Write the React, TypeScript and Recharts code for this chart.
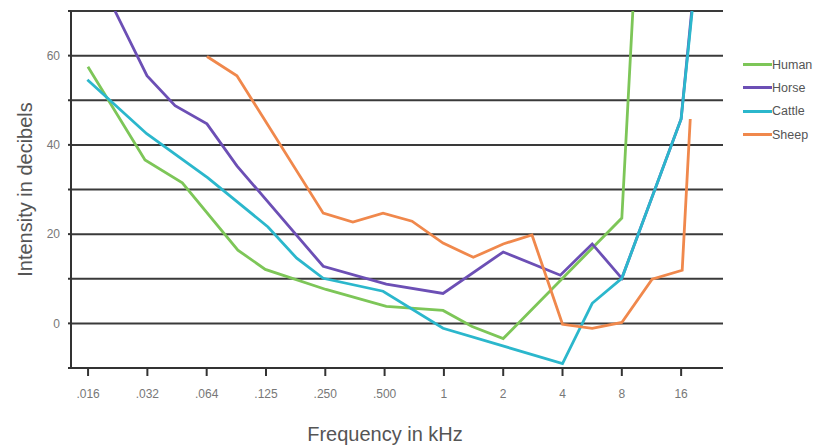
import React from 'react';
import { LineChart, Line, XAxis, YAxis, ReferenceLine } from 'recharts';

// Frequency axis (kHz, octave spaced) and its printed labels
const freqTicks = [0.015625, 0.03125, 0.0625, 0.125, 0.25, 0.5, 1, 2, 4, 8, 16];
const freqTickLabels = ['.016', '.032', '.064', '.125', '.250', '.500', '1', '2', '4', '8', '16'];

// Intensity axis (dB)
const gridLevels = [-10, 0, 10, 20, 30, 40, 50, 60, 70];
const labeledLevels = [0, 20, 40, 60];

// Series values
const humanFreq = [0.0156, 0.0304, 0.047, 0.09, 0.124, 0.252, 0.51, 0.99, 1.39, 2.0, 8.0, 9.1];
const humanDb = [57.5, 36.6, 31.5, 16.4, 12.1, 7.6, 3.8, 2.9, -0.7, -3.4, 23.6, 70];

const horseFreq = [0.0214, 0.0311, 0.0432, 0.0627, 0.089, 0.244, 0.51, 0.99, 2.0, 3.9, 5.66, 8.0, 16.0, 18.1];
const horseDb = [70, 55.5, 48.8, 44.7, 35.3, 12.8, 8.8, 6.7, 16, 10.8, 17.8, 10.1, 45.8, 70];

const cattleFreq = [0.0155, 0.031, 0.0634, 0.128, 0.179, 0.244, 0.491, 0.99, 4.0, 5.66, 8.0, 16.0, 18.2];
const cattleDb = [54.6, 42.5, 32.6, 21.6, 14.6, 10.1, 7.2, -1.1, -9, 4.5, 10.1, 45.8, 70];

const sheepFreq = [0.0627, 0.089, 0.244, 0.345, 0.491, 0.689, 0.99, 1.41, 2.0, 2.8, 4.0, 5.66, 8.0, 11.4, 16.2, 17.8];
const sheepDb = [59.8, 55.5, 24.7, 22.7, 24.7, 22.9, 18, 14.8, 17.8, 19.8, -0.2, -1.1, 0.2, 9.9, 11.9, 45.8];

const seriesNames = ['Human', 'Horse', 'Cattle', 'Sheep'];
const seriesColors = ['#7dc658', '#6c4fb5', '#2bb7cc', '#f0884c'];

const toPoints = (fs: number[], vs: number[]) => fs.map((f, i) => ({ f, v: vs[i] }));

const series = [
  toPoints(humanFreq, humanDb),
  toPoints(horseFreq, horseDb),
  toPoints(cattleFreq, cattleDb),
  toPoints(sheepFreq, sheepDb),
];

const FONT = '"Liberation Sans", Arial, sans-serif';

const XTitle = (props: any) => {
  const vb = props.viewBox || {};
  return (
    <text
      x={vb.x + vb.width / 2 - 12}
      y={vb.y + 73}
      textAnchor="middle"
      fill="#555"
      fontSize={20}
      fontFamily={FONT}
    >
      Frequency in kHz
    </text>
  );
};

const YTitle = (props: any) => {
  const vb = props.viewBox || {};
  const cx = vb.x + 14;
  const cy = vb.y + vb.height / 2;
  return (
    <text
      x={cx}
      y={cy}
      transform={`rotate(-90 ${cx} ${cy})`}
      textAnchor="middle"
      dominantBaseline="central"
      fill="#555"
      fontSize={20}
      fontFamily={FONT}
    >
      Intensity in decibels
    </text>
  );
};

export default function App() {
  return (
    <div style={{ position: 'absolute', left: 0, top: 0, width: 819, height: 448, background: '#fff' }}>
      <LineChart width={819} height={448} margin={{ top: 11, right: 96, bottom: 10, left: 11 }}>
        <XAxis
          type="number"
          dataKey="f"
          scale="log"
          domain={[0.0128, 26.1]}
          allowDataOverflow
          ticks={freqTicks}
          interval={0}
          tickFormatter={(v: number) => {
            const i = freqTicks.findIndex((t) => Math.abs(t - v) < 1e-9);
            return i >= 0 ? freqTickLabels[i] : '';
          }}
          height={70}
          axisLine={{ stroke: '#333', strokeWidth: 2 }}
          tickLine={{ stroke: '#333', strokeWidth: 2 }}
          tickSize={8}
          tickMargin={13}
          tick={{ fill: '#777', fontSize: 12, fontFamily: FONT }}
          label={<XTitle />}
        />
        <YAxis
          type="number"
          domain={[-10, 70]}
          allowDataOverflow
          ticks={gridLevels}
          interval={0}
          tickFormatter={(v: number) => (labeledLevels.includes(v) ? String(v) : '')}
          width={60}
          axisLine={{ stroke: '#333', strokeWidth: 2 }}
          tickLine={{ stroke: '#333', strokeWidth: 2 }}
          tickSize={3}
          tickMargin={8}
          tick={{ fill: '#777', fontSize: 12, fontFamily: FONT }}
          label={<YTitle />}
        />
        {gridLevels.map((lv) => (
          <ReferenceLine key={lv} y={lv} stroke="#3a3a3a" strokeWidth={2} ifOverflow="extendDomain" />
        ))}
        {series.map((pts, i) => (
          <Line
            key={seriesNames[i]}
            data={pts}
            dataKey="v"
            type="linear"
            stroke={seriesColors[i]}
            strokeWidth={2.8}
            dot={false}
            activeDot={false}
            isAnimationActive={false}
          />
        ))}
      </LineChart>
      <div style={{ position: 'absolute', left: 743, top: 53, fontFamily: FONT }}>
        {seriesNames.map((name, i) => (
          <div key={name} style={{ display: 'flex', alignItems: 'center', height: 23.3 }}>
            <div style={{ width: 29, height: 3, background: seriesColors[i] }} />
            <span style={{ fontSize: 12.5, color: '#555', lineHeight: '14px' }}>{name}</span>
          </div>
        ))}
      </div>
    </div>
  );
}
